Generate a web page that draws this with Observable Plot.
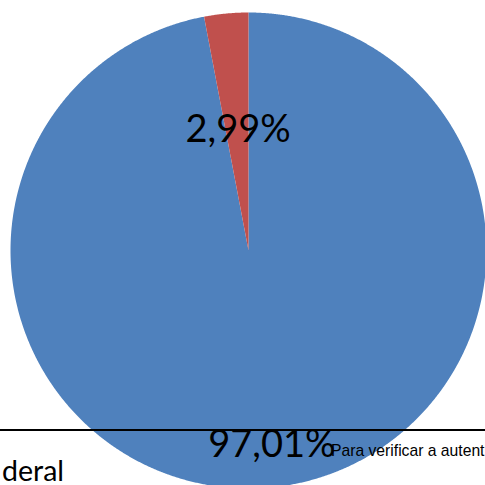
<!DOCTYPE html>
<html>
<head>
<meta charset="utf-8">
<script src="https://cdn.jsdelivr.net/npm/d3@7"></script>
<script src="https://cdn.jsdelivr.net/npm/@observablehq/plot@0.6"></script>
<style>
  html, body { margin: 0; padding: 0; background: #fff; overflow: hidden; width: 485px; height: 485px; }
  #wrap { position: relative; width: 485px; height: 485px; overflow: hidden; }
  #rule { position: absolute; left: 0; top: 429px; width: 485px; height: 2px; background: #000; }
  #note { position: absolute; left: 331px; top: 443px; line-height: 1; font-family: "Liberation Sans", Arial, sans-serif; font-size: 15.7px; color: #000; white-space: nowrap; }
  #deral { position: absolute; left: 2px; top: 456px; line-height: 1; font-family: Lato, sans-serif; font-size: 28.5px; color: #000; white-space: nowrap; }
</style>
</head>
<body>
<div id="wrap"></div>
<script>
// Data
const categories = ["A", "B"];
const values = [97.01, 2.99];
const labels = ["97,01%", "2,99%"];
const colors = ["#4F81BD", "#C0504D"];
const labelRadius = [0.82, 0.51];
const labelShift = [5, 1];

// Build slice polygons from values (clockwise from 12 o'clock)
const arcs = d3.pie().sort(null)(values);
const points = [];
arcs.forEach((a, i) => {
  const name = categories[i];
  points.push({name, x: 0, y: 0});
  const n = Math.max(2, Math.ceil((a.endAngle - a.startAngle) / (Math.PI / 720)));
  for (let k = 0; k <= n; k++) {
    const t = a.startAngle + (a.endAngle - a.startAngle) * k / n;
    points.push({name, x: Math.sin(t), y: Math.cos(t)});
  }
  points.push({name, x: 0, y: 0});
});
const labelData = arcs.map((a, i) => {
  const m = (a.startAngle + a.endAngle) / 2;
  return {name: categories[i], label: labels[i], shift: labelShift[i], x: labelRadius[i] * Math.sin(m), y: labelRadius[i] * Math.cos(m)};
});

const chart = Plot.plot({
  width: 485,
  height: 485,
  margin: 0,
  x: {domain: [-1, 1], range: [10, 486], axis: null},
  y: {domain: [-1, 1], range: [488, 12], axis: null},
  color: {domain: categories, range: colors},
  style: {overflow: "visible", background: "transparent"},
  marks: [
    Plot.line(points, {x: "x", y: "y", z: "name", fill: "name", stroke: "none", curve: "linear"}),
    ...labelData.map(d => Plot.text([d], {x: "x", y: "y", text: "label", fontSize: 38, fontFamily: "Lato, sans-serif", fill: "#000", dx: d.shift}))
  ]
});

const wrap = document.getElementById("wrap");
wrap.appendChild(chart);
const rule = document.createElement("div"); rule.id = "rule"; wrap.appendChild(rule);
const note = document.createElement("div"); note.id = "note"; note.textContent = "Para verificar a autent"; wrap.appendChild(note);
const deral = document.createElement("div"); deral.id = "deral"; deral.textContent = "deral"; wrap.appendChild(deral);
</script>
</body>
</html>
